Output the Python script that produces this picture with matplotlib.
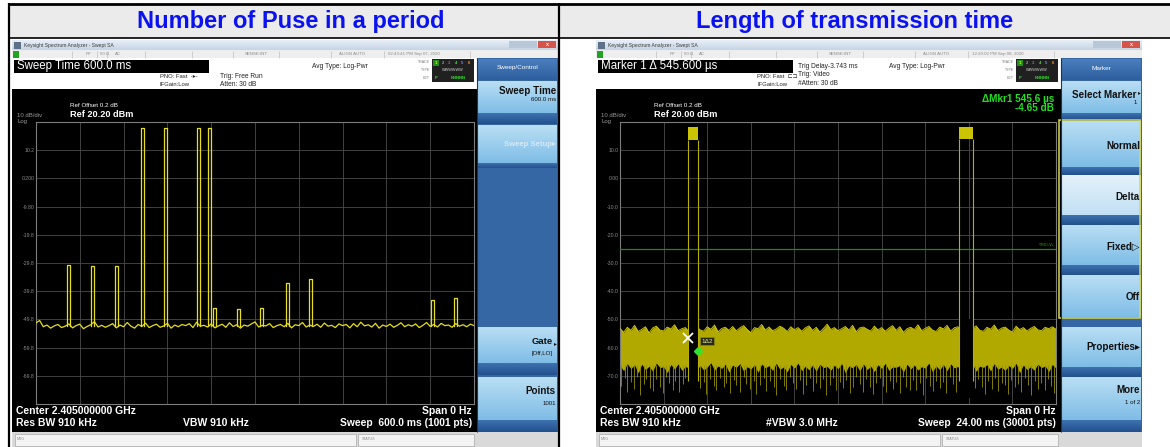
import numpy as np
import matplotlib
matplotlib.use("Agg")
import matplotlib.pyplot as plt
from matplotlib.patches import Rectangle
from matplotlib.colors import to_rgb

plt.rcParams["font.family"] = ["Liberation Sans", "DejaVu Sans"]

W, H = 1170, 447

# ---- left instrument: 600 ms zero-span sweep --------------------------------
left_ref_db = 20.2
left_span_ms = 600.0
left_noise_step_ms = 5.0
left_noise_db = [
    -51.0, -50.2, -52.4, -51.8, -52.9, -52.1, -51.6, -52.7, -52.2, -51.4,
    -52.8, -52.0, -51.5, -53.1, -52.3, -51.7, -50.6, -52.5, -51.9, -52.6,
    -52.0, -51.3, -52.8, -51.8, -52.4, -50.9, -52.2, -52.9, -51.6, -52.3,
    -51.1, -52.7, -52.0, -51.5, -52.6, -52.1, -51.2, -52.9, -51.8, -52.4,
    -51.6, -52.0, -51.3, -52.7, -50.8, -52.2, -51.9, -52.5, -51.4, -52.8,
    -52.1, -51.5, -52.6, -51.0, -52.3, -51.7, -52.9, -51.8, -52.2, -51.4,
    -50.7, -52.5, -51.9, -52.1, -51.3, -52.7, -52.0, -51.6, -52.4, -51.2,
    -52.8, -51.7, -52.0, -50.9, -52.5, -51.8, -52.3, -51.5, -52.6, -51.1,
    -52.2, -51.9, -52.7, -51.4, -52.0, -51.6, -52.8, -51.3, -52.4, -50.8,
    -52.1, -51.7, -52.5, -51.2, -52.9, -51.8, -52.3, -51.5, -52.6, -51.9,
    -51.0, -52.4, -51.7, -52.2, -51.4, -52.7, -51.9, -50.9, -52.3, -51.6,
    -52.5, -51.2, -52.0, -51.8, -52.6, -51.3, -52.2, -51.7, -52.4, -51.5,
    -52.0,
]
left_floor_db = -52.0
left_pulse_ms = [45, 78, 110, 146, 178, 223, 238, 245, 277, 309, 344, 376, 543, 575]
left_pulse_peak_db = [-30.5, -31.0, -31.0, 18.0, 18.0, 18.0, 18.0,
                      -45.6, -46.0, -45.6, -37.0, -35.5, -43.0, -42.3]
left_pulse_width_ms = 4.0

# ---- right instrument: 24 ms zero-span sweep, video trigger -----------------
right_ref_db = 20.0
right_span_ms = 24.0
right_step_ms = 0.2
right_upper_db = [
    -53.2, -54.6, -52.8, -53.9, -52.1, -54.3, -53.5, -52.6, -54.8, -53.0,
    -52.4, -53.8, -54.1, -52.7, -53.4, -51.9, -54.0, -53.3, -52.9, -54.5,
    -53.1, -52.3, -53.7, -54.2, -52.6, -53.5, -52.0, -54.4, -53.2, -52.8,
    -53.9, -52.5, -54.1, -53.0, -52.2, -53.6, -54.7, -52.9, -53.3, -51.8,
    -53.8, -52.7, -54.0, -53.4, -52.4, -53.1, -54.3, -52.6, -53.7, -52.9,
    -54.2, -53.0, -52.3, -53.9, -52.8, -54.5, -53.2, -51.7, -53.6, -52.9,
    -54.0, -53.3, -52.5, -53.8, -52.1, -54.4, -53.0, -52.7, -53.5, -54.1,
    -52.4, -53.7, -52.9, -54.2, -53.1, -52.2, -53.9, -52.6, -54.6, -53.3,
    -52.8, -53.6, -51.9, -54.0, -53.2, -52.5, -53.8, -54.3, -52.7, -53.4,
    -52.1, -54.1, -53.0, -52.6, -53.7, -54.4, -52.9, -53.3, -52.3, -53.9,
    -54.2, -52.8, -53.5, -52.0, -54.0, -53.1, -52.7, -53.8, -54.5, -52.4,
    -53.6, -52.9, -54.1, -53.2, -52.5, -53.7, -54.0, -52.8, -53.3, -52.6,
    -53.5,
]
right_lower_db = [
    -66.4, -68.2, -65.7, -67.5, -66.1, -69.0, -65.9, -67.8, -66.6, -68.4,
    -65.5, -67.1, -66.8, -68.9, -66.0, -67.6, -65.8, -68.1, -66.7, -67.3,
    -65.6, -68.5, -66.3, -67.9, -66.9, -65.4, -68.0, -66.5, -67.4, -65.9,
    -68.7, -66.2, -67.0, -65.7, -68.3, -66.8, -67.6, -66.1, -68.8, -65.8,
    -67.2, -66.4, -68.1, -65.6, -67.7, -66.9, -68.6, -66.0, -67.3, -65.5,
    -68.2, -66.6, -67.9, -66.2, -68.4, -65.9, -67.1, -66.7, -68.0, -66.3,
    -67.5, -65.7, -68.9, -66.5, -67.2, -66.0, -68.3, -65.8, -67.8, -66.6,
    -68.5, -66.1, -67.4, -65.6, -68.1, -66.9, -67.0, -66.4, -68.7, -65.9,
    -67.6, -66.2, -68.0, -66.8, -67.3, -65.5, -68.6, -66.5, -67.9, -66.0,
    -68.2, -65.8, -67.2, -66.7, -68.8, -66.3, -67.5, -65.9, -68.4, -66.6,
    -67.0, -66.1, -68.3, -65.7, -67.7, -66.9, -68.1, -66.4, -67.4, -65.6,
    -68.9, -66.2, -67.8, -66.8, -68.0, -65.9, -67.1, -66.5, -68.5, -66.0,
    -67.3,
]
# downward noise excursions below the dense part of the band
right_spike_ms = [
    0.05, 0.25, 0.40, 0.60, 0.75, 0.95, 1.10, 1.30, 1.45, 1.65,
    1.80, 2.00, 2.20, 2.35, 2.55, 2.70, 2.90, 3.05, 3.25, 3.45,
    3.60, 4.40, 4.60, 4.75, 4.95, 5.15, 5.30, 5.50, 5.70, 5.85,
    6.05, 6.25, 6.40, 6.60, 6.80, 6.95, 7.15, 7.35, 7.50, 7.70,
    7.90, 8.05, 8.25, 8.45, 8.60, 8.80, 9.00, 9.15, 9.35, 9.55,
    9.70, 9.90, 10.10, 10.25, 10.45, 10.65, 10.80, 11.00, 11.20, 11.35,
    11.55, 11.75, 11.90, 12.10, 12.30, 12.45, 12.65, 12.85, 13.00, 13.20,
    13.40, 13.55, 13.75, 13.95, 14.10, 14.30, 14.50, 14.65, 14.85, 15.05,
    15.20, 15.40, 15.60, 15.75, 15.95, 16.15, 16.30, 16.50, 16.70, 16.85,
    17.05, 17.25, 17.40, 17.60, 17.80, 17.95, 18.15, 18.35, 18.50, 19.55,
    19.70, 19.90, 20.10, 20.25, 20.45, 20.65, 20.80, 21.00, 21.20, 21.35,
    21.55, 21.75, 21.90, 22.10, 22.30, 22.45, 22.65, 22.85, 23.00, 23.20,
    23.40, 23.55, 23.75, 23.90,
]
right_spike_db = [
    -73.5, -70.8, -75.9, -72.1, -74.6, -70.4, -76.8, -72.9, -71.3, -74.2,
    -75.4, -71.0, -73.8, -76.2, -70.6, -72.7, -74.9, -71.8, -75.6, -73.0,
    -70.9, -74.4, -72.3, -76.5, -71.1, -73.6, -75.1, -70.7, -74.0, -72.5,
    -76.0, -71.4, -73.2, -75.7, -70.5, -72.8, -74.7, -71.9, -76.6, -73.4,
    -70.8, -75.3, -72.0, -74.1, -76.9, -71.2, -73.7, -75.0, -70.6, -72.6,
    -74.8, -71.5, -76.3, -73.1, -70.9, -75.5, -72.4, -74.3, -71.0, -76.7,
    -73.3, -70.7, -75.2, -72.2, -74.5, -71.6, -76.1, -73.9, -70.4, -72.9,
    -75.8, -71.3, -74.0, -76.4, -72.5, -70.8, -73.5, -75.9, -71.7, -74.6,
    -72.1, -76.2, -70.6, -73.8, -75.1, -71.4, -74.9, -72.7, -76.8, -70.9,
    -73.6, -75.4, -71.8, -74.2, -72.3, -76.0, -70.5, -73.0, -75.7, -74.4,
    -71.2, -73.9, -76.5, -72.0, -74.7, -70.7, -75.3, -72.6, -73.4, -76.3,
    -71.5, -74.1, -72.8, -75.6, -70.9, -73.2, -76.9, -71.9, -74.8, -72.4,
    -75.0, -71.1, -73.7, -76.1,
]
right_pulse_start_ms = [3.743, 18.68]
right_pulse_stop_ms = [4.2886, 19.42]
right_pulse_hi_db = [18.2, 18.4]
right_pulse_lo_db = [13.6, 13.8]
marker_ref_ms = 3.743
marker_ref_db = -56.5
marker_delta_us = 545.6
marker_delta_db = -4.65
trig_level_db = -25.0

TITLE_BLUE = "#0a12f2"
TRACE = "#e6de1e"
PANEL = "#3567a5"
STRIP = "#22508c"
KEY_TOP, KEY_BOT = "#b9def4", "#7fbde6"

fig = plt.figure(figsize=(W / 100, H / 100), dpi=100)
fig.patch.set_facecolor("white")
bg = fig.add_axes([0, 0, 1, 1])
bg.set_xlim(0, W)
bg.set_ylim(H, 0)
bg.set_autoscale_on(False)
bg.axis("off")


def rect(x0, y0, x1, y1, fc, ec="none", lw=0.0, z=1):
    bg.add_patch(Rectangle((x0, y0), x1 - x0, y1 - y0, facecolor=fc,
                           edgecolor=ec, linewidth=lw, zorder=z))


def grad(x0, y0, x1, y1, c_top, c_bot, z=1):
    c0, c1 = np.array(to_rgb(c_top)), np.array(to_rgb(c_bot))
    t = np.linspace(0, 1, 32)[:, None, None]
    img = c0 * (1 - t) + c1 * t
    bg.imshow(img, extent=(x0, x1, y1, y0), aspect="auto",
              interpolation="bilinear", zorder=z)


def label(x, y, s, size, color="black", weight="normal", ha="left", va="center", z=5):
    bg.text(x, y, s, fontsize=size, color=color, fontweight=weight,
            ha=ha, va=va, zorder=z)


def line(xs, ys, color, lw, z=6):
    bg.plot(xs, ys, color=color, lw=lw, solid_capstyle="butt", zorder=z)


def softkey(x0, x1, y0, y1, strip_to, top=KEY_TOP, bot=KEY_BOT):
    grad(x0, y0, x1, y1, top, bot, z=2)
    if strip_to > y1:
        grad(x0, y1, x1, strip_to, "#3d72b0", STRIP, z=2)


def instrument(dx, clock, header_box, keys):
    # window chrome
    rect(12 + dx, 40, 558 + dx, 447, "#1a1a1a")
    grad(12 + dx, 40, 558 + dx, 50, "#e8eff7", "#c6d4e3", z=2)
    rect(14 + dx, 41.5, 21 + dx, 48.5, "#5d7288", z=3)
    label(24 + dx, 45, "Keysight Spectrum Analyzer - Swept SA", 3.6, "#3a3a3a")
    rect(509 + dx, 41, 523 + dx, 48, "#b9c8d8", z=3)
    rect(523 + dx, 41, 537 + dx, 48, "#b9c8d8", z=3)
    rect(538 + dx, 41, 556 + dx, 48, "#d6554a", z=3)
    label(547 + dx, 44.5, "x", 4, "white", "bold", ha="center")
    # status row
    rect(12 + dx, 50, 558 + dx, 58, "#eeeeee", z=2)
    rect(12.5 + dx, 50.5, 19 + dx, 57.5, "#22a322", z=3)
    for sx in (72, 97, 107, 145, 192, 233, 279, 331, 384, 470):
        line([sx + dx, sx + dx], [50.5, 57.5], "#b5b5b5", 0.4)
    label(86 + dx, 54, "RF", 3.2, "#8a8a8a")
    label(100 + dx, 54, "50 Ω", 3.2, "#8a8a8a")
    label(115 + dx, 54, "AC", 3.2, "#8a8a8a")
    label(245 + dx, 54, "SENSE:INT", 3.2, "#8a8a8a")
    label(339 + dx, 54, "ALIGN AUTO", 3.2, "#8a8a8a")
    label(388 + dx, 54, clock, 3.2, "#8a8a8a")
    # settings area
    rect(12 + dx, 58, 477 + dx, 89, "white", z=2)
    rect(14 + dx, 60, 209 + dx, 73, "black", z=3)
    label(17 + dx, 66.5, header_box, 8.3, "white")
    label(430 + dx, 62, "TRACE", 2.6, "#777777", ha="right")
    label(430 + dx, 70, "TYPE", 2.6, "#777777", ha="right")
    label(430 + dx, 78, "DET", 2.6, "#777777", ha="right")
    rect(432 + dx, 59, 474 + dx, 82, "#202020", z=3)
    rect(433 + dx, 59.5, 439 + dx, 65.5, "#1f8f1f", z=4)
    for i, c in enumerate(["#f2f200", "#22d3ee", "#e040e0", "#4ad04a", "#6f8fff", "#ff9a30"]):
        label(436 + dx + i * 6.6, 62.5, str(i + 1), 3.0, c, "bold", ha="center")
    label(453 + dx, 70, "WWWWWW", 2.8, "#cfcfcf", ha="center")
    label(436 + dx, 78, "P", 3.0, "#2fdc2f", "bold", ha="center")
    label(458 + dx, 78, "NNNNN", 3.0, "#2fdc2f", "bold", ha="center")
    # display area
    rect(12 + dx, 89, 477 + dx, 432, "black", z=2)
    label(17 + dx, 115.5, "10 dB/div", 4.3, "#9a9a9a")
    label(17 + dx, 121.5, "Log", 4.3, "#9a9a9a")
    # message bar
    rect(12 + dx, 432, 558 + dx, 447, "#d9d9d9", z=2)
    rect(15 + dx, 434, 356 + dx, 446, "#f3f3f3", ec="#a9a9a9", lw=0.5, z=3)
    label(17 + dx, 439.5, "MSG", 2.6, "#8a8a8a")
    rect(358 + dx, 434, 474 + dx, 446, "#f3f3f3", ec="#a9a9a9", lw=0.5, z=3)
    label(362 + dx, 439.5, "STATUS", 2.6, "#8a8a8a")
    # softkey panel
    rect(477 + dx, 58, 558 + dx, 432, PANEL, z=2)
    line([477 + dx, 477 + dx], [58, 432], "#20344f", 0.8)
    for y0, y1, strip, face, texts in keys:
        if face == "header":
            grad(478 + dx, y0, 557 + dx, y1, "#4a7ebd", "#2d5f9f", z=2)
        elif face == "selected":
            softkey(478 + dx, 557 + dx, y0, y1, strip, "#e3f1fa", "#c2e0f4")
        else:
            softkey(478 + dx, 557 + dx, y0, y1, strip)
        for tx, ty, s, size, color, weight, ha in texts:
            label(tx + dx, ty, s, size, color, weight, ha)


def db_label(v):
    if abs(v) < 1e-9:
        return "0.00"
    if abs(v) >= 9.995:
        return f"{v:.1f}"
    if abs(v) >= 0.9995:
        return f"{v:.2f}"
    return f"{v:.3f}"


def graticule(x0, x1, ref_db, span):
    ax = fig.add_axes([x0 / W, 1 - 404 / H, (x1 - x0) / W, (404 - 122) / H])
    ax.set_facecolor("black")
    ax.set_xlim(0, span)
    ax.set_ylim(ref_db - 100, ref_db)
    ax.set_xticks(np.linspace(0, span, 11)[1:-1])
    yt = ref_db - 10 * np.arange(1, 10)
    ax.set_yticks(yt)
    ax.set_yticklabels([db_label(v) for v in yt])
    ax.grid(True, color="#4b4b4b", lw=0.6)
    ax.tick_params(length=0, labelbottom=False, labelsize=3.7,
                   labelcolor="#8c8c8c", pad=1.2)
    for s in ax.spines.values():
        s.set_color("#7d7d7d")
        s.set_linewidth(0.8)
    return ax


# ---- table frame and titles --------------------------------------------------
rect(10, 5, W, 38, "#ebebeb", z=0)
line([8, W], [4.2, 4.2], "black", 2.0)
line([8, W], [38.3, 38.3], "black", 1.2)
line([9, 9], [3.2, H], "black", 1.6)
line([558.8, 558.8], [3.2, H], "black", 1.6)
label(291, 21.5, "Number of Puse in a period", 17, TITLE_BLUE, "bold", ha="center")
label(855, 21.5, "Length of transmission time", 17, TITLE_BLUE, "bold", ha="center")

KD = "#111111"
left_keys = [
    (59, 80, 80, "header", [(517.5, 68, "Sweep/Control", 4.6, "white", "normal", "center")]),
    (81, 113, 124, "key", [(556, 91.5, "Sweep Time", 7.1, KD, "bold", "right"),
                           (556, 99.5, "600.0 ms", 4.4, KD, "normal", "right")]),
    (125, 163, 168, "key", [(556, 145, "Sweep Setup▸", 5.6, "#d5e8f5", "bold", "right")]),
    (327, 363, 375, "key", [(553, 341, "Gate", 6.8, KD, "bold", "right"),
                            (557, 344, "▸", 4, KD, "normal", "right"),
                            (553, 353, "[Off,LO]", 4.4, KD, "normal", "right")]),
    (377, 420, 432, "key", [(556, 391.5, "Points", 7.1, KD, "bold", "right"),
                            (556, 403.5, "1001", 4.4, KD, "normal", "right")]),
]
right_keys = [
    (59, 80, 80, "header", [(517.5, 68, "Marker", 4.6, "white", "normal", "center")]),
    (81, 113, 120, "key", [(553, 94.5, "Select Marker", 7.1, KD, "bold", "right"),
                           (557, 93, "▸", 4, KD, "normal", "right"),
                           (553, 103, "1", 4.4, KD, "normal", "right")]),
    (121, 167, 175, "key", [(556, 146, "Normal", 7.1, KD, "bold", "right")]),
    (175, 215, 225, "selected", [(556, 197, "Delta", 7.1, KD, "bold", "right")]),
    (225, 265, 275, "key", [(556, 247, "Fixed▷", 7.1, KD, "bold", "right")]),
    (275, 317, 317, "key", [(556, 297, "Off", 7.1, KD, "bold", "right")]),
    (327, 367, 377, "key", [(556, 347, "Properties▸", 7.1, KD, "bold", "right")]),
    (377, 420, 432, "key", [(556, 390, "More", 7.1, KD, "bold", "right"),
                            (556, 403, "1 of 2", 4.4, KD, "normal", "right")]),
]

# ---- left screenshot ---------------------------------------------------------
instrument(0, "02:43:41 PM Sep 07, 2020", "Sweep Time 600.0 ms", left_keys)
label(160, 76.5, "PNO: Fast  -▸-", 4.2, "#222222")
label(160, 84.5, "IFGain:Low", 4.2, "#222222")
label(220, 76.5, "Trig: Free Run", 4.8, "#222222")
label(220, 84.5, "Atten: 30 dB", 4.8, "#222222")
label(312, 66.5, "Avg Type: Log-Pwr", 4.8, "#222222")
label(70, 105.5, "Ref Offset 0.2 dB", 4.5, "white")
label(70, 114.5, f"Ref {left_ref_db:.2f} dBm", 6.6, "white", "bold")
label(16, 411.5, "Center 2.405000000 GHz", 7.5, "white", "bold")
label(16, 422.5, "Res BW 910 kHz", 7.5, "white", "bold")
label(183, 422.5, "VBW 910 kHz", 7.5, "white", "bold")
label(472, 411.5, "Span 0 Hz", 7.5, "white", "bold", ha="right")
label(472, 422.5, "Sweep  600.0 ms (1001 pts)", 7.4, "white", "bold", ha="right")

axL = graticule(36, 474, left_ref_db, left_span_ms)
t_noise = np.arange(len(left_noise_db)) * left_noise_step_ms
axL.plot(t_noise, left_noise_db, color=TRACE, lw=0.9, zorder=3)
for t, pk in zip(left_pulse_ms, left_pulse_peak_db):
    a, b = t - left_pulse_width_ms / 2, t + left_pulse_width_ms / 2
    axL.plot([a, a, b, b], [left_floor_db, pk, pk, left_floor_db],
             color=TRACE, lw=0.9, zorder=4)

# ---- right screenshot --------------------------------------------------------
DX = 584
instrument(DX, "12:20:02 PM Sep 08, 2020", f"Marker 1 Δ {marker_delta_us:.3f} µs", right_keys)
label(757, 76.5, "PNO: Fast  ⊏⊐", 4.2, "#222222")
label(757, 84.5, "IFGain:Low", 4.2, "#222222")
label(798, 66.5, "Trig Delay-3.743 ms", 4.8, "#222222")
label(798, 75, "Trig: Video", 4.8, "#222222")
label(798, 83.5, "#Atten: 30 dB", 4.8, "#222222")
label(889, 66.5, "Avg Type: Log-Pwr", 4.8, "#222222")
label(70 + DX, 105.5, "Ref Offset 0.2 dB", 4.5, "white")
label(70 + DX, 114.5, f"Ref {right_ref_db:.2f} dBm", 6.6, "white", "bold")
label(1054, 98.5, f"ΔMkr1 {marker_delta_us:.1f} µs", 7.2, "#22e022", "bold", ha="right")
label(1054, 108, f"{marker_delta_db:.2f} dB", 7.2, "#22e022", "bold", ha="right")
label(16 + DX, 411.5, "Center 2.405000000 GHz", 7.5, "white", "bold")
label(16 + DX, 422.5, "Res BW 910 kHz", 7.5, "white", "bold")
label(766, 422.5, "#VBW 3.0 MHz", 7.5, "white", "bold")
label(472 + DX, 411.5, "Span 0 Hz", 7.5, "white", "bold", ha="right")
label(472 + DX, 422.5, "Sweep  24.00 ms (30001 pts)", 7.4, "white", "bold", ha="right")
rect(1059, 120, 1139.5, 318, "none", ec="#d8d84c", lw=1.1, z=4)

axR = graticule(620, 1056, right_ref_db, right_span_ms)
t_band = np.arange(len(right_upper_db)) * right_step_ms
axR.fill_between(t_band, right_lower_db, right_upper_db,
                 color="#b2a900", lw=0, zorder=2)
axR.plot(t_band, right_upper_db, color="#dcd40e", lw=0.6, zorder=3)
axR.vlines(right_spike_ms, right_spike_db, -66.0, color="#989000", lw=0.6, zorder=2)
for a, b, lo, hi in zip(right_pulse_start_ms, right_pulse_stop_ms,
                        right_pulse_lo_db, right_pulse_hi_db):
    axR.fill_between([a, b], -78, -50, color="black", lw=0, zorder=3)
    axR.fill_between([a, b], lo, hi, color="#cdc400", lw=0, zorder=4)
    axR.vlines([a, b], -72, lo, color="#b8b000", lw=0.8, zorder=4)
axR.axhline(trig_level_db, color="#1c8c1c", lw=0.9, zorder=3)
axR.text(0.995, trig_level_db + 0.8, "TRG LVL", transform=axR.get_yaxis_transform(),
         ha="right", va="bottom", fontsize=2.6, color="#2cb52c", zorder=5)
axR.plot(marker_ref_ms, marker_ref_db, marker="x", ms=7, mew=1.3, color="white", zorder=6)
d_t = marker_ref_ms + marker_delta_us / 1000
d_db = marker_ref_db + marker_delta_db
axR.plot(d_t, d_db, marker="D", ms=3.8, color="#2ee62e", zorder=6)
axR.annotate("1Δ2", (d_t, d_db), xytext=(2.5, 7), textcoords="offset points",
             ha="left", va="center", fontsize=4.6, color="#d8e8b0", zorder=7,
             bbox=dict(boxstyle="square,pad=0.2", fc="#2a2a12", ec="#8c8c20", lw=0.5))

fig.savefig("out.png", dpi=100)
